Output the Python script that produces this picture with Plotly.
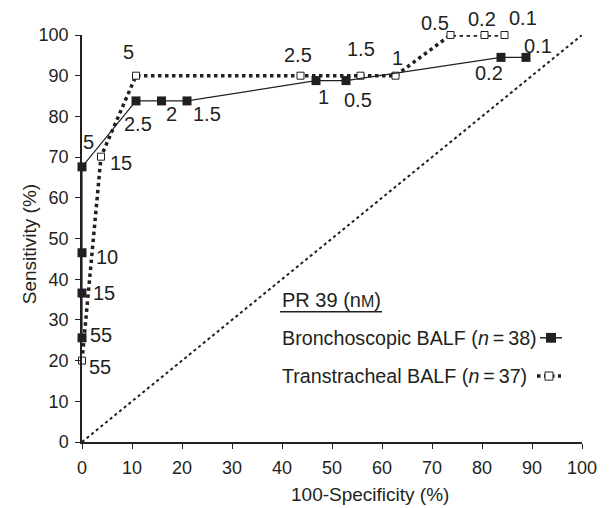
import plotly.graph_objects as go

# ---- data ----
broncho_x = [0, 0, 0, 0, 10.8, 15.9, 21.0, 46.8, 52.8, 83.8, 88.8]
broncho_y = [25.6, 36.6, 46.5, 67.6, 83.8, 83.8, 83.8, 88.8, 88.8, 94.5, 94.5]
broncho_lbl = ["55", "15", "10", "5", "2.5", "2", "1.5", "1", "0.5", "0.2", "0.1"]

trans_x = [0, 3.8, 10.8, 43.7, 55.7, 62.7, 73.7, 80.5, 84.5]
trans_y = [20.0, 70.1, 90.0, 90.0, 90.0, 90.0, 100.0, 100.0, 100.0]
trans_lbl = ["55", "15", "5", "2.5", "1.5", "1", "0.5", "0.2", "0.1"]

diag_x = [0, 100]
diag_y = [0, 100]

tick_vals = list(range(0, 101, 10))

# label offsets in pixels (dx right, dy down) -- styling only
broncho_off = [(19, -3), (22, 0), (25, 4), (6, -25), (2, 23), (10, 13), (20, 13),
               (7, 16), (12, 19), (-12, 16), (12, -11)]
trans_off = [(18, 6), (20, 6), (-8, -24), (-3, -21), (0, -27), (2, -18),
             (-16, -12), (-3, -16), (18, -17)]

INK = "#231f20"
FONT = "Liberation Sans, Arial, Helvetica, sans-serif"

fig = go.Figure()

fig.add_trace(go.Scatter(x=diag_x, y=diag_y, mode="lines",
                         line=dict(color=INK, width=2, dash="dot"),
                         cliponaxis=False, showlegend=False, hoverinfo="skip"))
fig.add_trace(go.Scatter(x=trans_x, y=trans_y, mode="lines+markers",
                         line=dict(color=INK, width=3.5, dash="dot"),
                         marker=dict(symbol="square", size=7, color="white",
                                     line=dict(color=INK, width=1)),
                         cliponaxis=False, showlegend=False))
fig.add_trace(go.Scatter(x=broncho_x, y=broncho_y, mode="lines+markers",
                         line=dict(color=INK, width=1.2),
                         marker=dict(symbol="square", size=9, color=INK),
                         cliponaxis=False, showlegend=False))

ann = []
for x, y, t, (dx, dy) in zip(broncho_x, broncho_y, broncho_lbl, broncho_off):
    ann.append(dict(x=x, y=y, text=t, showarrow=False, xshift=dx, yshift=-dy,
                    xanchor="center", yanchor="middle",
                    font=dict(size=20, color=INK)))
for x, y, t, (dx, dy) in zip(trans_x, trans_y, trans_lbl, trans_off):
    ann.append(dict(x=x, y=y, text=t, showarrow=False, xshift=dx, yshift=-dy,
                    xanchor="center", yanchor="middle",
                    font=dict(size=20, color=INK)))

# axis titles
ann.append(dict(xref="paper", yref="paper", x=-0.106, y=0.486, text="Sensitivity (%)",
                textangle=-90, showarrow=False, xanchor="center", yanchor="middle",
                font=dict(size=19, color=INK)))
ann.append(dict(xref="paper", yref="paper", x=0.576, y=-0.128, text="100-Specificity (%)",
                showarrow=False, xanchor="center", yanchor="middle",
                font=dict(size=19, color=INK)))

# legend block (manual, text left of symbols)
ann.append(dict(xref="paper", yref="paper", x=0.396, y=0.349, xanchor="left", yanchor="middle",
                text="PR 39 (n<span style='font-size:16px'>M</span>)",
                showarrow=False, font=dict(size=20, color=INK)))
ann.append(dict(xref="paper", yref="paper", x=0.396, y=0.256, xanchor="left", yanchor="middle",
                text="Bronchoscopic BALF (<i>n</i>\u2009=\u200938)",
                showarrow=False, font=dict(size=19.7, color=INK)))
ann.append(dict(xref="paper", yref="paper", x=0.396, y=0.162, xanchor="left", yanchor="middle",
                text="Transtracheal BALF (<i>n</i>\u2009=\u200937)",
                showarrow=False, font=dict(size=19.7, color=INK)))

shapes = [
    # underline of legend title
    dict(type="line", xref="paper", yref="paper", x0=0.396, x1=0.600, y0=0.320, y1=0.320,
         line=dict(color=INK, width=1.5)),
    # glyph 1
    dict(type="line", xref="paper", yref="paper", x0=0.916, x1=0.960, y0=0.256, y1=0.256,
         line=dict(color=INK, width=1.5)),
    dict(type="rect", xref="paper", yref="paper", x0=0.928, x1=0.948, y0=0.244, y1=0.268,
         fillcolor=INK, line=dict(color=INK, width=0)),
    # glyph 2
    dict(type="line", xref="paper", yref="paper", x0=0.910, x1=0.958, y0=0.162, y1=0.162,
         line=dict(color=INK, width=3.5, dash="dot")),
    dict(type="rect", xref="paper", yref="paper", x0=0.926, x1=0.942, y0=0.152, y1=0.172,
         fillcolor="white", line=dict(color=INK, width=1)),
]

axis_common = dict(range=[0, 100], tickvals=tick_vals, ticks="outside", ticklen=5,
                   tickwidth=1.2, tickcolor=INK, showline=True, linecolor=INK,
                   linewidth=1.5, showgrid=False, zeroline=False,
                   tickfont=dict(size=18, color=INK))

fig.update_layout(
    width=601, height=500,
    margin=dict(l=74, r=27, t=27, b=66),
    paper_bgcolor="white", plot_bgcolor="white",
    font=dict(family=FONT, color=INK),
    xaxis=dict(axis_common, ticklabelstandoff=4),
    yaxis=dict(axis_common, ticklabelstandoff=3),
    annotations=ann,
    shapes=shapes,
    showlegend=False,
)

fig.write_html("out.html")
